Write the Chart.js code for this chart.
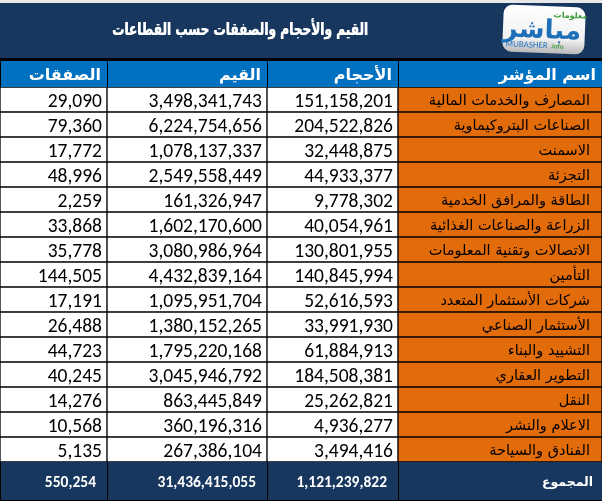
<!DOCTYPE html>
<html>
<head>
<meta charset="utf-8">
<script src="https://cdn.jsdelivr.net/npm/chart.js@4.4.0/dist/chart.umd.min.js"></script>
<style>
html, body { margin: 0; padding: 0; background: #fff; overflow: hidden; }
canvas { display: block; }
</style>
</head>
<body>
<canvas id="myChart" width="602" height="501"></canvas>
<script>
const titulo = 'القيم والأحجام والصفقات حسب القطاعات';
const cabecalhos = ['اسم المؤشر', 'الأحجام', 'القيم', 'الصفقات'];
const setores = [
    'المصارف والخدمات المالية',
    'الصناعات البتروكيماوية',
    'الاسمنت',
    'التجزئة',
    'الطاقة والمرافق الخدمية',
    'الزراعة والصناعات الغذائية',
    'الاتصالات وتقنية المعلومات',
    'التأمين',
    'شركات الأستثمار المتعدد',
    'الأستثمار الصناعي',
    'التشييد والبناء',
    'التطوير العقاري',
    'النقل',
    'الاعلام والنشر',
    'الفنادق والسياحة'
];
const volumes = [151158201, 204522826, 32448875, 44933377, 9778302, 40054961, 130801955, 140845994, 52616593, 33991930, 61884913, 184508381, 25262821, 4936277, 3494416];
const valores = [3498341743, 6224754656, 1078137337, 2549558449, 161326947, 1602170600, 3080986964, 4432839164, 1095951704, 1380152265, 1795220168, 3045946792, 863445849, 360196316, 267386104];
const negocios = [29090, 79360, 17772, 48996, 2259, 33868, 35778, 144505, 17191, 26488, 44723, 40245, 14276, 10568, 5135];
const rotuloTotal = 'المجموع';
const totais = [1121239822, 31436415055, 550254];

// layout (da direita para a esquerda)
const larguras = [204, 131, 160, 107];
const bordas = [0];
larguras.forEach(w => bordas.push(bordas[bordas.length - 1] + w));

const azulEscuro = '#17375e';
const azulCabecalho = '#0070c0';
const laranja = '#e26b0a';
const fonteNum = 'Carlito, Lato, sans-serif';
const fonteAr = '"DejaVu Sans", sans-serif';
const fonteTitulo = '"DejaVu Sans Condensed", "DejaVu Sans", sans-serif';

const colunas = [setores, volumes, valores, negocios];
const fmt = v => v.toLocaleString('en-US');

function celula(ctx, x1, y1, x2, y2, cor) {
    ctx.fillStyle = '#000';
    ctx.fillRect(x1, y1, x2 - x1, y2 - y1);
    ctx.fillStyle = cor;
    ctx.fillRect(x1 + 1, y1 + 1, x2 - x1 - 2, y2 - y1 - 2);
}

const tabela = {
    id: 'tabela',
    beforeDraw(chart) {
        const ctx = chart.ctx;
        const x = chart.scales.x;
        const area = chart.chartArea;
        ctx.save();
        ctx.fillStyle = '#e8e8e8';
        ctx.fillRect(0, 0, chart.width, 3);
        ctx.fillStyle = azulEscuro;
        ctx.fillRect(0, 3, chart.width, 56);
        ctx.fillStyle = '#000';
        ctx.fillRect(0, 58, chart.width, 2);

        // titulo (um pouco esticado na vertical)
        ctx.save();
        ctx.fillStyle = '#fff';
        ctx.font = 'bold 13.5px ' + fonteTitulo;
        ctx.direction = 'ltr';
        ctx.textAlign = 'left';
        const w = ctx.measureText(titulo).width;
        ctx.translate(240, 35);
        ctx.scale(1, 1.3);
        ctx.fillText(titulo, -w / 2, 0);
        ctx.fillText(titulo, -w / 2 + 0.4, 0);
        ctx.restore();

        // logo
        ctx.save();
        ctx.translate(544, 29);
        ctx.rotate(0.04);
        const g = ctx.createLinearGradient(0, -24, 0, 24);
        g.addColorStop(0, '#ffffff');
        g.addColorStop(0.7, '#f2f2f2');
        g.addColorStop(1, '#b8b8b8');
        ctx.fillStyle = g;
        ctx.beginPath();
        ctx.roundRect(-41, -23, 82, 47, 9);
        ctx.fill();
        ctx.fillStyle = '#1d6fb8';
        ctx.font = 'bold 26px ' + fonteAr;
        ctx.textAlign = 'center';
        ctx.fillText('مباشر', -2, 9);
        ctx.fillStyle = '#3a9a3a';
        ctx.font = 'bold 8px ' + fonteAr;
        ctx.fillText('معلومات', 26, -12);
        ctx.textAlign = 'left';
        ctx.fillStyle = '#2a78c0';
        ctx.font = '9px ' + fonteNum;
        ctx.fillText('MUBASHER', -38, 19);
        ctx.fillStyle = '#3a9a3a';
        ctx.font = 'bold 7px ' + fonteNum;
        ctx.fillText('.info', 7, 19);
        ctx.restore();

        // cabecalho e total
        const topo = area.top - 27;
        const fim = area.bottom + 38;
        for (let c = 0; c < 4; c++) {
            const xa = x.getPixelForValue(bordas[c + 1]);
            const xb = x.getPixelForValue(bordas[c]);
            celula(ctx, xa, topo, xb + 1, area.top + 1, azulCabecalho);
            celula(ctx, xa, area.bottom - 1, xb + 1, fim + 1, azulEscuro);
        }
        ctx.restore();
    },
    afterDatasetsDraw(chart) {
        const ctx = chart.ctx;
        const x = chart.scales.x;
        const area = chart.chartArea;
        ctx.save();
        ctx.textAlign = 'right';
        ctx.direction = 'ltr';
        chart.data.datasets.forEach((ds, c) => {
            chart.getDatasetMeta(c).data.forEach((bar, i) => {
                const dir = Math.max(bar.x, bar.base);
                ctx.fillStyle = '#000';
                if (c == 0) {
                    ctx.font = '14.5px ' + fonteAr;
                    ctx.fillText(colunas[c][i], dir - 12, bar.y + 5);
                } else {
                    ctx.font = '19.5px ' + fonteNum;
                    ctx.fillText(fmt(colunas[c][i]), dir - 5, bar.y + 7);
                }
            });
        });

        // textos do cabecalho
        ctx.fillStyle = '#fff';
        ctx.font = 'bold 16px ' + fonteAr;
        cabecalhos.forEach((t, c) => {
            ctx.fillText(t, x.getPixelForValue(bordas[c]) - 6, area.top - 7);
        });

        // linha do total
        ctx.font = 'bold 12.5px ' + fonteAr;
        ctx.fillText(rotuloTotal, x.getPixelForValue(bordas[0]) - 9, area.bottom + 24);
        ctx.font = 'bold 15.5px ' + fonteNum;
        totais.forEach((v, k) => {
            ctx.fillText(fmt(v), x.getPixelForValue(bordas[k + 1]) - 11, area.bottom + 25);
        });
        ctx.restore();
    }
};

const ctx = document.getElementById('myChart').getContext('2d');
const myChart = new Chart(ctx, {
    type: 'bar',
    data: {
        labels: setores,
        datasets: colunas.map((col, c) => ({
            label: cabecalhos[c],
            data: setores.map(() => [bordas[c], bordas[c + 1]]),
            backgroundColor: c == 0 ? laranja : '#ffffff',
            borderColor: '#000000',
            borderWidth: 1,
            borderSkipped: false
        }))
    },
    options: {
        indexAxis: 'y',
        responsive: false,
        animation: false,
        events: [],
        grouped: false,
        categoryPercentage: 1,
        barPercentage: 1,
        layout: { padding: { top: 87, bottom: 39, left: 0, right: 0 } },
        scales: {
            x: { type: 'linear', min: 0, max: 602, reverse: true, display: false },
            y: { type: 'category', display: false }
        },
        plugins: {
            legend: { display: false },
            tooltip: { enabled: false }
        }
    },
    plugins: [tabela]
});
</script>
</body>
</html>
